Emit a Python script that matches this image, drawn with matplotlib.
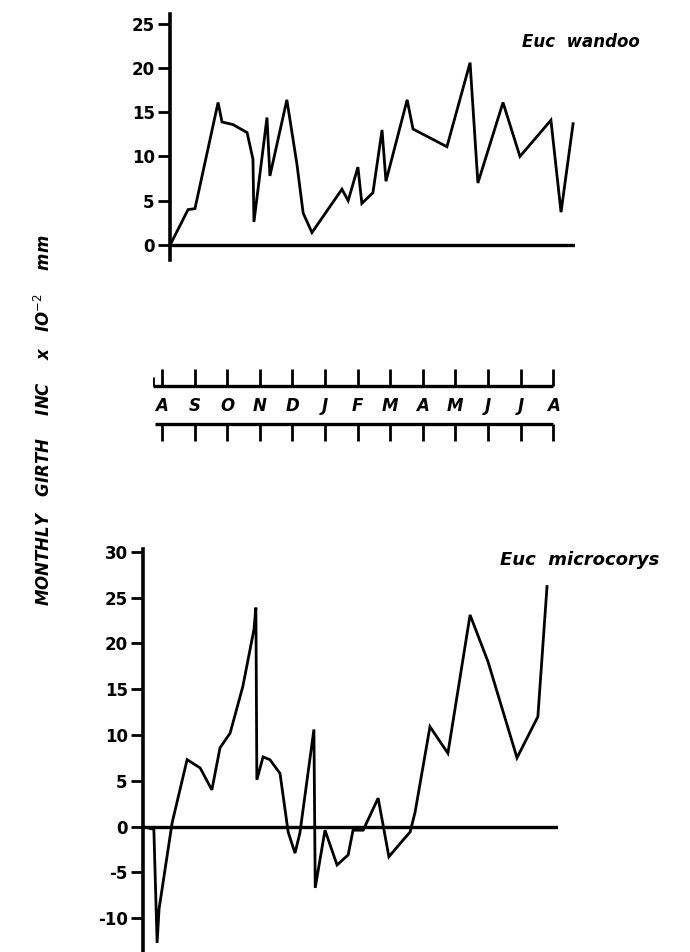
import matplotlib.pyplot as plt

plt.rcParams['font.family'] = ['DejaVu Sans']
plt.rcParams['axes.unicode_minus'] = False

# month axis: A S O N D J F M A M J J A  (0 = August)
month_labels = ['A', 'S', 'O', 'N', 'D', 'J', 'F', 'M', 'A', 'M', 'J', 'J', 'A']
month_pos = list(range(13))

# Euc wandoo: monthly girth increment (x 10^-2 mm)
wandoo_t = [0.25, 0.80, 1.01, 1.07, 1.72, 1.84, 2.18, 2.61, 2.79, 2.82, 3.22, 3.31,
            3.83, 4.14, 4.33, 4.60, 5.52, 5.71, 6.01, 6.13, 6.47, 6.75, 6.87, 7.52,
            7.70, 8.74, 9.45, 9.69, 10.46, 10.98, 11.93, 12.24, 12.61]
wandoo_inc = [0, 4.0, 4.1, 5.1, 16.1, 13.9, 13.6, 12.7, 9.7, 2.6, 14.4, 7.8,
              16.4, 9.1, 3.6, 1.4, 6.3, 5.0, 8.8, 4.7, 5.9, 13.0, 7.2, 16.4,
              13.1, 11.1, 20.6, 7.0, 16.1, 10.0, 14.1, 3.7, 13.7]

# Euc microcorys
micro_t = [-0.61, -0.25, -0.15, -0.09, 0.31, 0.77, 1.17, 1.53, 1.78, 2.09, 2.48,
           2.82, 2.88, 2.91, 3.10, 3.31, 3.62, 3.87, 4.08, 4.23, 4.66, 4.70, 5.00,
           5.37, 5.71, 5.86, 6.17, 6.63, 6.96, 7.39, 7.61, 7.76, 8.22, 8.77, 9.45,
           10.00, 10.89, 11.53, 11.81]
micro_inc = [0, -0.3, -12.7, -9.0, 0.4, 7.3, 6.4, 4.0, 8.6, 10.2, 15.3,
             21.5, 23.9, 5.1, 7.6, 7.3, 5.8, -0.6, -2.9, -0.7, 10.6, -6.7, -0.4,
             -4.2, -3.1, -0.4, -0.4, 3.1, -3.3, -1.5, -0.6, 1.5, 10.9, 8.0, 23.1,
             18.0, 7.5, 12.0, 26.2]

W, H = 690, 952
fig = plt.figure(figsize=(W / 100, H / 100), dpi=100)


def px_axes(x0, y0, x1, y1):
    return fig.add_axes([x0 / W, 1 - y1 / H, (x1 - x0) / W, (y1 - y0) / H])


def px_to_month(x):
    return (x - 162) / 32.6


def style_panel(ax, ticks):
    for side in ['top', 'right', 'bottom']:
        ax.spines[side].set_visible(False)
    ax.spines['left'].set_linewidth(2.6)
    ax.set_xticks([])
    ax.set_yticks(ticks)
    ax.tick_params(axis='y', direction='out', length=9, width=2, pad=2,
                   labelsize=12)
    for lab in ax.get_yticklabels():
        lab.set_fontweight('bold')
    ax.axhline(0, color='black', lw=2.4)
    ax.patch.set_alpha(0)


label_kw = dict(fontweight='bold', style='italic')

# top panel
ax1 = px_axes(170, 14, 575, 260)
ax1.plot(wandoo_t, wandoo_inc, color='black', lw=2.0, solid_joinstyle='miter')
ax1.set_xlim(px_to_month(170), px_to_month(575))
ax1.set_ylim(-1.7, 26.1)
style_panel(ax1, [0, 5, 10, 15, 20, 25])
fig.text(522 / W, 1 - 42 / H, 'Euc  wandoo', fontsize=12, va='center',
         ha='left', **label_kw)

# month strip
ax2 = px_axes(153, 366, 560, 444)
ax2.set_xlim(px_to_month(153), px_to_month(560))
ax2.set_ylim(0, 1)
ax2.axis('off')
ax2.hlines(0.744, px_to_month(153), 12, color='black', lw=2.4)
ax2.hlines(0.256, px_to_month(155), 12, color='black', lw=2.4)
ax2.vlines(px_to_month(153), 0.744, 0.86, color='black', lw=2)
ax2.vlines(month_pos, 0.744, 0.96, color='black', lw=2)
ax2.vlines(month_pos, 0.04, 0.256, color='black', lw=2)
for m, lab in zip(month_pos, month_labels):
    ax2.text(m, 0.49, lab, ha='center', va='center', fontsize=12, **label_kw)

# bottom panel
ax3 = px_axes(143, 549, 558, 952)
ax3.plot(micro_t, micro_inc, color='black', lw=2.0, solid_joinstyle='miter')
ax3.set_xlim(px_to_month(143), px_to_month(558))
ax3.set_ylim(-13.7, 30.3)
style_panel(ax3, [-10, -5, 0, 5, 10, 15, 20, 25, 30])
fig.text(500 / W, 1 - 560 / H, 'Euc  microcorys', fontsize=13, va='center',
         ha='left', **label_kw)

fig.text(44 / W, 1 - 420 / H, 'MONTHLY   GIRTH    INC    x   IO$^{-2}$    mm',
         rotation=90, fontsize=12, ha='center', va='center', **label_kw)

plt.savefig('out.png', dpi=100)
